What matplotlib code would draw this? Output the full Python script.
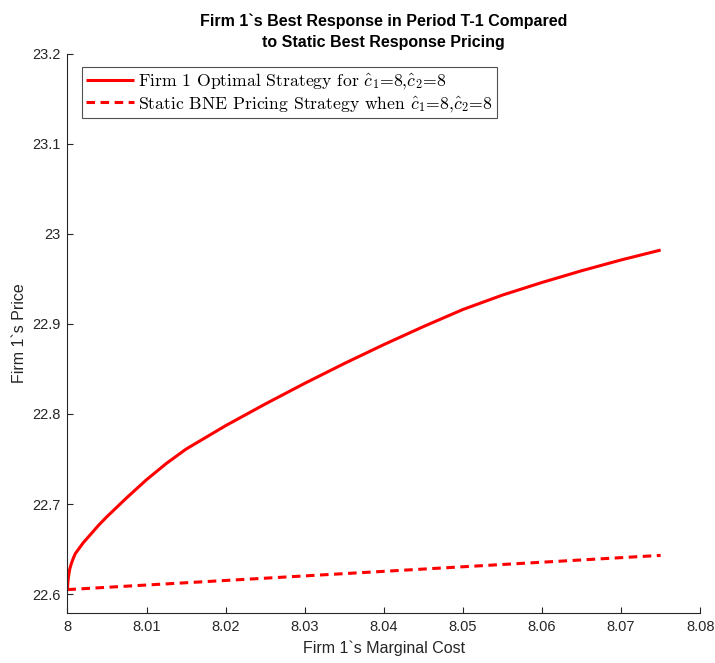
import matplotlib
matplotlib.use("Agg")
import matplotlib.pyplot as plt

# ---- data ----
marginal_cost = [8.0, 8.00005, 8.0001, 8.0002, 8.0003, 8.0005, 8.00075, 8.001, 8.0015,
                 8.002, 8.003, 8.004, 8.005, 8.0075, 8.01,
                 8.0125, 8.015, 8.02, 8.025, 8.03, 8.035, 8.04, 8.045, 8.05,
                 8.055, 8.06, 8.065, 8.07, 8.075]
optimal_price = [22.605, 22.612, 22.617, 22.623, 22.628, 22.634, 22.640, 22.645, 22.651,
                 22.657, 22.667, 22.677, 22.686, 22.707, 22.727,
                 22.745, 22.761, 22.787, 22.811, 22.834, 22.856, 22.877, 22.897, 22.916,
                 22.932, 22.946, 22.959, 22.971, 22.982]
static_cost = [8.0, 8.075]
static_price = [22.605, 22.643]

x_ticks = [8.0, 8.01, 8.02, 8.03, 8.04, 8.05, 8.06, 8.07, 8.08]
x_tick_labels = ["8", "8.01", "8.02", "8.03", "8.04", "8.05", "8.06", "8.07", "8.08"]
y_ticks = [22.6, 22.7, 22.8, 22.9, 23.0, 23.1, 23.2]
y_tick_labels = ["22.6", "22.7", "22.8", "22.9", "23", "23.1", "23.2"]

title = "Firm 1`s Best Response in Period T-1 Compared\nto Static Best Response Pricing"
xlabel = "Firm 1`s Marginal Cost"
ylabel = "Firm 1`s Price"
legend_labels = [r"Firm 1 Optimal Strategy for $\hat{c}_1$=8,$\hat{c}_2$=8",
                 r"Static BNE Pricing Strategy when $\hat{c}_1$=8,$\hat{c}_2$=8"]

# ---- figure ----
plt.rcParams['font.family'] = ['Liberation Sans', 'DejaVu Sans']
plt.rcParams['mathtext.fontset'] = 'cm'

fig = plt.figure(figsize=(7.15, 6.63), dpi=100)
ax = fig.add_axes([0.0943, 0.0754, 0.885, 0.8436])

red = '#ff0000'
l1, = ax.plot(marginal_cost, optimal_price, color=red, lw=2.2, solid_capstyle='butt',
              solid_joinstyle='round')
l2, = ax.plot(static_cost, static_price, color=red, lw=2.2, linestyle=(0, (2.8, 1.8)))

ax.set_xlim(8.0, 8.08)
ax.set_ylim(22.579, 23.2)
ax.set_xticks(x_ticks)
ax.set_xticklabels(x_tick_labels)
ax.set_yticks(y_ticks)
ax.set_yticklabels(y_tick_labels)

for s in ['top', 'right']:
    ax.spines[s].set_visible(False)
for s in ['left', 'bottom']:
    ax.spines[s].set_color('#262626')
    ax.spines[s].set_linewidth(0.8)
ax.tick_params(direction='in', length=4, width=0.8, colors='#262626', labelsize=10.5,
               labelcolor='#262626', pad=5)

ax.set_title(title, fontsize=11.5, fontweight='bold', pad=5, linespacing=1.45)
ax.set_xlabel(xlabel, fontsize=11.5, color='#262626', labelpad=5)
ax.set_ylabel(ylabel, fontsize=11.5, color='#262626', labelpad=4)

leg = ax.legend([l1, l2], legend_labels, loc='upper left', bbox_to_anchor=(0.023, 0.976),
                prop={'family': ['cmr10', 'DejaVu Serif'], 'size': 12.7},
                frameon=True, fancybox=False, edgecolor='#262626', handlelength=2.7,
                handletextpad=0.2, borderpad=0.25, labelspacing=0.15, borderaxespad=0)
leg.get_frame().set_linewidth(0.8)

fig.savefig("out.png", dpi=100)
